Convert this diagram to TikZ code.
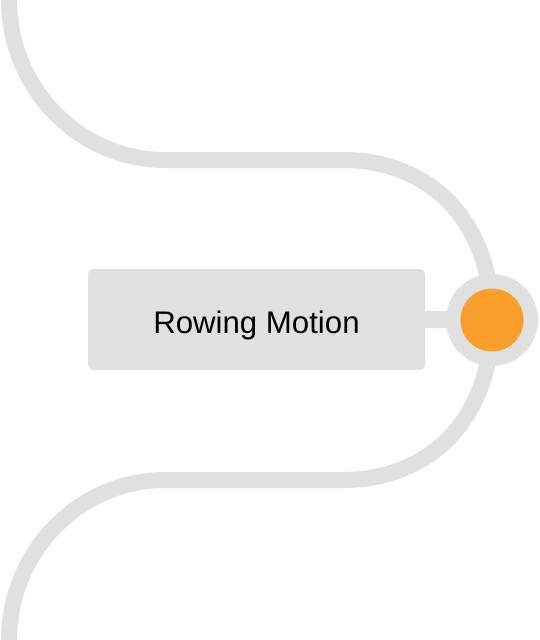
\documentclass[tikz,border=0pt]{standalone}
\usepackage{fontspec}
\setmainfont{Liberation Sans}
\definecolor{track gray}{HTML}{E0E0E0}
\definecolor{hub orange}{HTML}{FA9E2C}
\tikzset{track/.style={draw=track gray, line width=16pt},
    label box/.style={fill=track gray, rounded corners=5pt, minimum width=337pt,
        minimum height=101pt, inner sep=0pt, text height=27pt, text depth=0pt,
        font=\fontsize{31.2}{36}\selectfont},
    hubring/.style={circle, fill=track gray, minimum size=92pt, inner sep=0pt},
    hubdot/.style={circle, fill=hub orange, minimum size=63pt, inner sep=0pt}}

\begin{document}
\begin{tikzpicture}[x=1pt, y=-1pt]
     \useasboundingbox (0,0) rectangle (539,640);
     % winding track
     \draw[track] (9,-10) -- (9,0) .. controls (9,88) and (79,160) .. (165,160)
         -- (343,160) .. controls (432,160) and (492,224) .. (492,320)
         .. controls (492,416) and (432,480) .. (343,480)
         -- (165,480) .. controls (79,480) and (9,552) .. (9,640) -- (9,650);
     \node[label box] (motion) at (256.5,319.5) {Rowing Motion};
     \node[hubring] (hub) at (492,320) {};
     \draw[track, line width=17pt] (motion.east) -- (hub.center);
     \node[hubdot] (hubdot) at (hub.center) {};
\end{tikzpicture}
\end{document}
